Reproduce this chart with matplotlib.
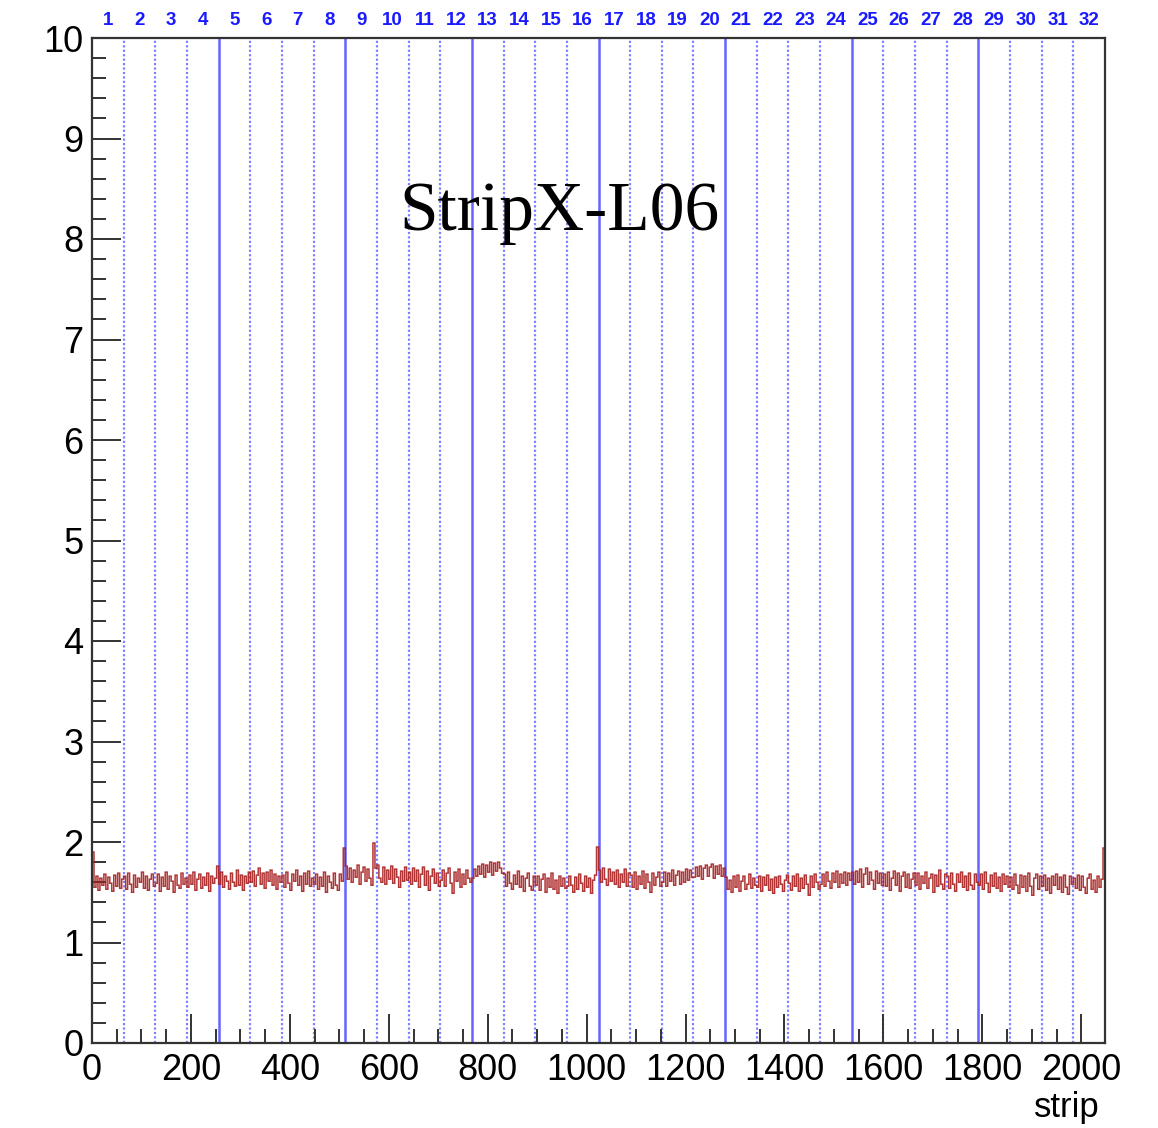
import numpy as np
import matplotlib
matplotlib.use("Agg")
import matplotlib.pyplot as plt
from matplotlib.ticker import MultipleLocator

title = "StripX-L06"
x_label = "strip"
n_strips = 2048
strips_per_chip = 64
strips_per_bin = 4
chip_labels = [str(i) for i in range(1, 33)]

# value per 4-strip bin, one row per chip (16 bins per chip)
chip_rows = [
    [1.90, 1.55, 1.66, 1.52, 1.64, 1.57, 1.68, 1.53, 1.65, 1.59, 1.51, 1.67, 1.56, 1.69, 1.54, 1.63],
    [1.66, 1.53, 1.69, 1.58, 1.50, 1.67, 1.55, 1.64, 1.60, 1.70, 1.54, 1.66, 1.52, 1.63, 1.68, 1.56],
    [1.59, 1.68, 1.51, 1.65, 1.56, 1.70, 1.53, 1.66, 1.61, 1.50, 1.67, 1.57, 1.54, 1.69, 1.58, 1.64],
    [1.55, 1.67, 1.58, 1.70, 1.52, 1.63, 1.68, 1.54, 1.65, 1.57, 1.69, 1.51, 1.66, 1.59, 1.64, 1.76],
    [1.58, 1.70, 1.55, 1.66, 1.61, 1.53, 1.69, 1.60, 1.56, 1.72, 1.57, 1.67, 1.52, 1.66, 1.59, 1.70],
    [1.60, 1.71, 1.56, 1.67, 1.74, 1.58, 1.69, 1.54, 1.70, 1.61, 1.72, 1.57, 1.68, 1.53, 1.66, 1.60],
    [1.67, 1.55, 1.70, 1.59, 1.52, 1.68, 1.61, 1.72, 1.57, 1.66, 1.51, 1.69, 1.58, 1.71, 1.56, 1.64],
    [1.58, 1.68, 1.53, 1.65, 1.56, 1.70, 1.50, 1.66, 1.60, 1.54, 1.69, 1.57, 1.52, 1.68, 1.61, 1.94],
    [1.76, 1.63, 1.74, 1.60, 1.72, 1.65, 1.77, 1.58, 1.70, 1.75, 1.61, 1.73, 1.64, 1.57, 1.99, 1.74],
    [1.77, 1.64, 1.60, 1.75, 1.58, 1.72, 1.63, 1.76, 1.59, 1.73, 1.65, 1.55, 1.71, 1.61, 1.75, 1.62],
    [1.70, 1.58, 1.74, 1.61, 1.72, 1.55, 1.68, 1.75, 1.57, 1.71, 1.52, 1.66, 1.73, 1.59, 1.69, 1.56],
    [1.62, 1.72, 1.56, 1.69, 1.74, 1.59, 1.49, 1.70, 1.61, 1.73, 1.55, 1.68, 1.58, 1.72, 1.64, 1.60],
    [1.64, 1.73, 1.66, 1.76, 1.68, 1.78, 1.65, 1.77, 1.70, 1.80, 1.67, 1.79, 1.71, 1.80, 1.74, 1.69],
    [1.68, 1.56, 1.70, 1.59, 1.53, 1.67, 1.58, 1.71, 1.55, 1.66, 1.51, 1.64, 1.69, 1.56, 1.52, 1.66],
    [1.57, 1.66, 1.52, 1.63, 1.68, 1.50, 1.64, 1.55, 1.69, 1.53, 1.62, 1.49, 1.66, 1.56, 1.64, 1.54],
    [1.56, 1.66, 1.57, 1.50, 1.65, 1.53, 1.68, 1.59, 1.51, 1.66, 1.55, 1.64, 1.49, 1.62, 1.67, 1.95],
    [1.72, 1.60, 1.74, 1.63, 1.57, 1.73, 1.61, 1.70, 1.58, 1.72, 1.55, 1.68, 1.60, 1.73, 1.56, 1.69],
    [1.67, 1.55, 1.70, 1.53, 1.66, 1.58, 1.71, 1.54, 1.68, 1.60, 1.50, 1.69, 1.57, 1.65, 1.70, 1.56],
    [1.60, 1.70, 1.56, 1.69, 1.61, 1.72, 1.57, 1.67, 1.71, 1.58, 1.70, 1.60, 1.73, 1.62, 1.72, 1.65],
    [1.65, 1.75, 1.66, 1.76, 1.63, 1.74, 1.77, 1.66, 1.75, 1.78, 1.64, 1.76, 1.68, 1.77, 1.66, 1.74],
    [1.65, 1.53, 1.62, 1.50, 1.66, 1.55, 1.67, 1.51, 1.61, 1.66, 1.53, 1.58, 1.68, 1.54, 1.64, 1.57],
    [1.55, 1.66, 1.51, 1.65, 1.57, 1.67, 1.52, 1.63, 1.49, 1.65, 1.55, 1.66, 1.58, 1.51, 1.62, 1.67],
    [1.59, 1.52, 1.66, 1.56, 1.68, 1.51, 1.64, 1.54, 1.67, 1.58, 1.47, 1.66, 1.55, 1.68, 1.60, 1.53],
    [1.58, 1.68, 1.56, 1.70, 1.61, 1.54, 1.69, 1.60, 1.71, 1.55, 1.68, 1.59, 1.70, 1.57, 1.69, 1.62],
    [1.70, 1.58, 1.71, 1.60, 1.73, 1.55, 1.68, 1.74, 1.58, 1.70, 1.62, 1.53, 1.71, 1.59, 1.69, 1.57],
    [1.68, 1.56, 1.70, 1.52, 1.64, 1.71, 1.57, 1.69, 1.51, 1.66, 1.70, 1.55, 1.68, 1.54, 1.63, 1.69],
    [1.57, 1.69, 1.53, 1.66, 1.59, 1.70, 1.54, 1.64, 1.68, 1.50, 1.67, 1.56, 1.72, 1.58, 1.53, 1.68],
    [1.66, 1.54, 1.69, 1.58, 1.51, 1.68, 1.60, 1.70, 1.55, 1.66, 1.52, 1.69, 1.57, 1.53, 1.68, 1.60],
    [1.57, 1.68, 1.53, 1.70, 1.59, 1.50, 1.67, 1.56, 1.69, 1.54, 1.65, 1.51, 1.68, 1.58, 1.66, 1.55],
    [1.65, 1.53, 1.68, 1.57, 1.49, 1.67, 1.55, 1.66, 1.51, 1.69, 1.56, 1.47, 1.64, 1.68, 1.53, 1.66],
    [1.56, 1.67, 1.52, 1.64, 1.49, 1.66, 1.57, 1.68, 1.53, 1.65, 1.50, 1.67, 1.55, 1.48, 1.66, 1.58],
    [1.64, 1.54, 1.67, 1.52, 1.66, 1.55, 1.49, 1.64, 1.68, 1.53, 1.62, 1.50, 1.66, 1.55, 1.63, 1.94],
]

values = np.concatenate([np.array(r) for r in chip_rows])
edges = np.arange(0, n_strips + 1, strips_per_bin)

plt.rcParams['font.family'] = ['Liberation Sans', 'DejaVu Sans']

W, H = 1158, 1128
fig = plt.figure(figsize=(W / 100, H / 100), dpi=100)
L, R, T, B = 92, 1105, 38, 1043
ax = fig.add_axes([L / W, 1 - B / H, (R - L) / W, (B - T) / H])

ax.set_xlim(0, n_strips)
ax.set_ylim(0, 10)

# chip boundaries
for k in range(1, n_strips // strips_per_chip):
    x = k * strips_per_chip
    if x % 256 == 0:
        ax.axvline(x, color='#6464ff', lw=1.8, zorder=1)
    else:
        ax.axvline(x, color='#8080ff', lw=1.6, ls=(0, (1.0, 1.0)), zorder=1)

ax.stairs(values, edges, baseline=None, color='#a82020', lw=1.1, alpha=0.9, zorder=2)

# chip number labels on top
xt = ax.get_xaxis_transform()
for i, lab in enumerate(chip_labels):
    ax.text(strips_per_chip * (i + 0.5), 1.017, lab, transform=xt,
            ha='center', va='center', fontsize=13.5, fontweight='bold', color='#1a1aff')

ax.text((560 - L) / (R - L), (B - 213) / (B - T), title, transform=ax.transAxes,
        ha='center', va='center', fontsize=50, family='Liberation Serif')

ax.text(0.995, (B - 1108) / (B - T), x_label, transform=ax.transAxes,
        ha='right', va='center', fontsize=25)

ax.xaxis.set_major_locator(MultipleLocator(200))
ax.xaxis.set_minor_locator(MultipleLocator(50))
ax.yaxis.set_major_locator(MultipleLocator(1))
ax.yaxis.set_minor_locator(MultipleLocator(0.2))

ax.tick_params(which='both', direction='in', top=False, right=False, color='#333333', width=1.4)
ax.tick_params(which='major', length=21, labelsize=26)
ax.tick_params(axis='x', which='major', pad=7)
ax.tick_params(axis='y', which='major', pad=6)
ax.tick_params(which='minor', length=10)

for s in ax.spines.values():
    s.set_linewidth(1.6)
    s.set_color('#333333')

fig.savefig('out.png', dpi=100)
